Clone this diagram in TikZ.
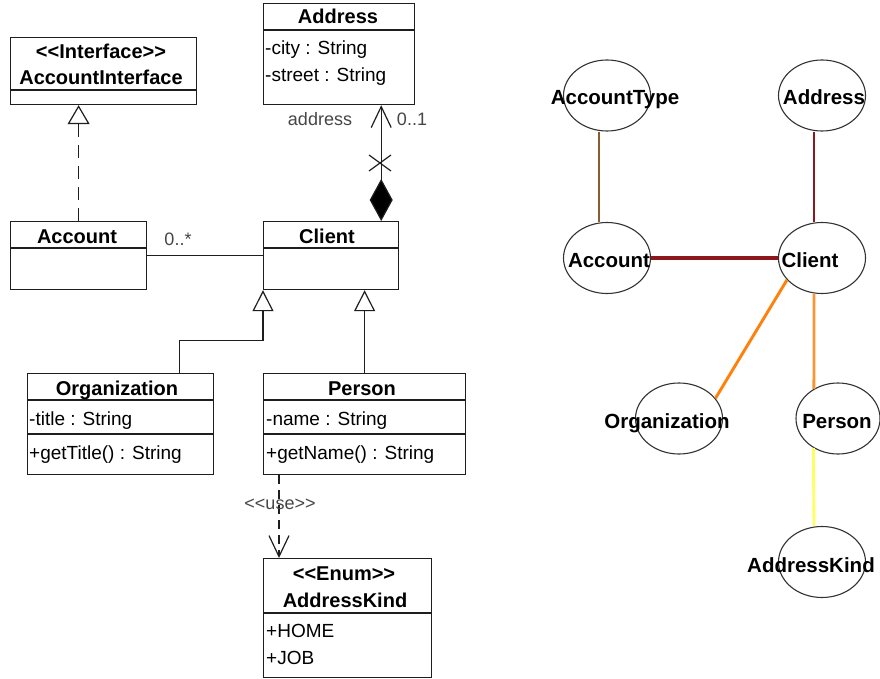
\documentclass[tikz,border=0pt]{standalone}
\usepackage{fontspec}
\setmainfont{Liberation Sans}[Ligatures=TeXOff]
\usepackage{xcolor}
\usepackage{tikz}
\usetikzlibrary{shapes,arrows.meta,positioning,calc}

\definecolor{linec}{RGB}{30,30,30}
\definecolor{tagc}{RGB}{70,70,70}
\definecolor{ellc}{RGB}{50,50,50}
\definecolor{brownE}{RGB}{139,92,45}
\definecolor{redE}{RGB}{140,24,30}
\definecolor{orgE}{RGB}{255,128,10}
\definecolor{perE}{RGB}{250,150,50}
\definecolor{yelE}{RGB}{255,255,100}

\begin{document}
\begin{tikzpicture}[
    x=1pt, y=-1pt,
    cls/.style = {draw=linec, line width=1.2pt, rectangle, inner sep=0, anchor=north west},
    ttl/.style = {inner sep=0, anchor=base, text=black, font=\fontsize{20}{24}\selectfont\bfseries},
    attr/.style = {inner sep=0, anchor=base west, text=black, font=\fontsize{19}{23}\selectfont},
    tag/.style = {inner sep=0, anchor=base, text=tagc, font=\fontsize{18}{22}\selectfont},
    uml/.style = {draw=linec, line width=1.2pt},
    dash1/.style = {dash pattern=on 13pt off 8pt},
    dash2/.style = {dash pattern=on 9pt off 6pt},
    gnode/.style = {draw=ellc, ellipse, line width=1.1pt, inner sep=0, minimum width=87pt, minimum height=71pt},
    glabel/.style = {inner sep=0, anchor=base, font=\fontsize{20.5}{24}\selectfont\bfseries},
    gedge/.style = {line width=2.9pt}
  ]
  \path[fill=white] (0,0) rectangle (880,679);
  \useasboundingbox (0,0) rectangle (880,679);

  % 类图
  \begin{scope}
    \node[cls, minimum width=151pt, minimum height=101pt] (addr) at (263,3) {};
    \draw[uml] (263,30) -- (414,30);
    \node[ttl] (addrT) at (338,24) {Address};
    \node[attr] (addrA) at (265,55) {-city : String};
    \node[attr] (addrB) at (265,82) {-street : String};

    \node[cls, minimum width=186pt, minimum height=67pt] (aif) at (10,37) {};
    \draw[uml] (10,90) -- (196,90);
    \node[ttl] (aifS) at (101,59) {<<Interface>>};
    \node[ttl] (aifT) at (101,85) {AccountInterface};

    \node[cls, minimum width=136pt, minimum height=68pt] (acc) at (10,221) {};
    \draw[uml] (10,248) -- (146,248);
    \node[ttl] (accT) at (77,243) {Account};

    \node[cls, minimum width=135pt, minimum height=68pt] (cli) at (263,221) {};
    \draw[uml] (263,248) -- (398,248);
    \node[ttl] (cliT) at (327,243) {Client};

    \node[cls, minimum width=186pt, minimum height=101pt] (org) at (27,373) {};
    \draw[uml] (27,400) -- (213,400) (27,434) -- (213,434);
    \node[ttl] (orgT) at (117,395) {Organization};
    \node[attr] (orgA) at (29,425) {-title : String};
    \node[attr] (orgB) at (29,459) {+getTitle() : String};

    \node[cls, minimum width=202pt, minimum height=101pt] (per) at (263,373) {};
    \draw[uml] (263,400) -- (465,400) (263,434) -- (465,434);
    \node[ttl] (perT) at (362,395) {Person};
    \node[attr] (perA) at (266,425) {-name : String};
    \node[attr] (perB) at (266,459) {+getName() : String};

    \node[cls, minimum width=168pt, minimum height=119pt] (akind) at (263,558) {};
    \draw[uml] (263,613) -- (431,613);
    \node[ttl] (akindS) at (344,580) {<<Enum>>};
    \node[ttl] (akindT) at (345,607) {AddressKind};
    \node[attr] (akindA) at (266,637) {+HOME};
    \node[attr] (akindB) at (266,664) {+JOB};

    % realization
    \draw[uml, dash1, -{Triangle[open, length=19pt, width=22pt]}] (acc.north) -- (acc.north |- aif.south);

    % association
    \draw[uml] (acc.east) -- (acc.east -| cli.west);
    \node[tag] (m1) at (178,245) {0..*};

    % composition
    \coordinate (cp) at ([xshift=-18pt]cli.north east);
    \draw[uml, {Diamond[fill=black, length=42pt, width=23pt]}-{Straight Barb[length=21pt, width=20pt]}] (cp) -- (cp |- addr.south);
    \coordinate (cx) at (380,163);
    \draw[uml] (cx) ++(-11,-8) -- ++(22,16) (cx) ++(-11,8) -- ++(22,-16);
    \node[tag] (role) at (320,126) {address};
    \node[tag] (m2) at (412,126) {0..1};

    % generalization
    \draw[uml, -{Triangle[open, length=21pt, width=21pt]}] ([xshift=59pt]org.north) |- ($(cli.south west)+(0,50)$) -- (cli.south west);
    \draw[uml, -{Triangle[open, length=21pt, width=21pt]}] (per.north) -- (per.north |- cli.south);

    % dependency
    \coordinate (u) at ([xshift=16pt]akind.north west);
    \draw[uml, dash2, -{Straight Barb[length=21pt, width=20pt]}] (u |- per.south) -- (u);
    \node[tag] (use) at (280,509) {<<use>>};
  \end{scope}

  % 依赖图
  \begin{scope}
    \node[gnode] (gAT) at (607,95.5) {};
    \node[gnode] (gAd) at (822,95.5) {};
    \node[gnode] (gAc) at (607,258) {};
    \node[gnode] (gCl) at (822,258) {};
    \node[gnode] (gOr) at (679,418.5) {};
    \node[gnode, minimum width=84pt] (gPe) at (838,418.5) {};
    \node[gnode] (gAK) at (822,562) {};

    \draw[gedge, brownE] ([xshift=-8pt]gAT.south) -- ([xshift=-8pt]gAc.north);
    \draw[gedge, redE] ([xshift=-8pt]gAd.south) -- ([xshift=-8pt]gCl.north);
    \draw[gedge, redE, line width=3.4pt] (gAc) -- (gCl);
    \draw[gedge, orgE] (gCl.212) -- (gOr.29);
    \draw[gedge, perE] ([xshift=-8pt]gCl.south) -- (gPe.129.5);
    \draw[gedge, yelE] (gPe.230.5) -- ([xshift=-8pt]gAK.north);

    \node[glabel] (lAT) at (615,105) {AccountType};
    \node[glabel] (lAd) at (824,105) {Address};
    \node[glabel] (lAc) at (609,267) {Account};
    \node[glabel] (lCl) at (810,267) {Client};
    \node[glabel] (lOr) at (667,428) {Organization};
    \node[glabel] (lPe) at (837,428) {Person};
    \node[glabel] (lAK) at (811,572) {AddressKind};
  \end{scope}
\end{tikzpicture}
\end{document}
